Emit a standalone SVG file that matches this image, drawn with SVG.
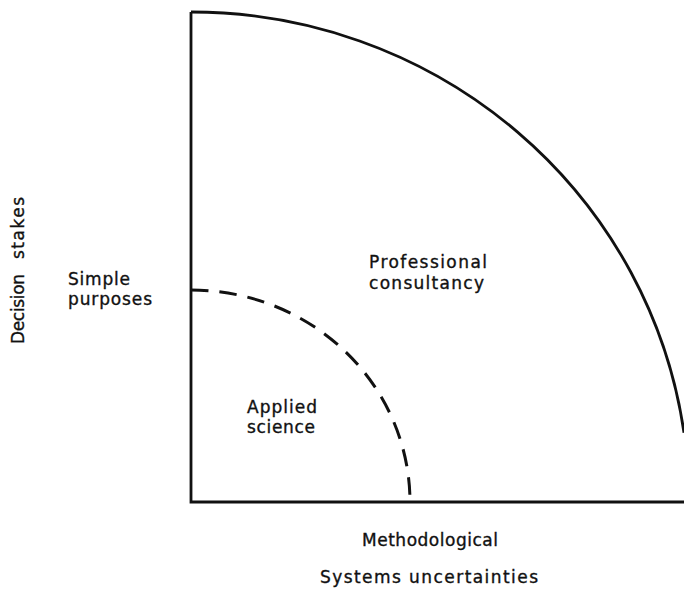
<svg xmlns="http://www.w3.org/2000/svg" width="684" height="594" viewBox="0 0 684 594">
<style>
.ln{fill:none;stroke:#111;stroke-width:2.8;stroke-linecap:butt;stroke-linejoin:miter}
.dash{fill:none;stroke:#111;stroke-width:3;stroke-dasharray:17.5 11}
text{font-family:"DejaVu Sans","Liberation Sans",sans-serif;font-size:17px;fill:#111;stroke:#111;stroke-width:0.35}
</style>
<rect width="684" height="594" fill="#fff"/>
<g id="connectors">
<path id="axes" class="ln" d="M191,12 L191,502 L684,502"/>
<path id="outer-boundary" class="ln" d="M191,12 A498,490 0 0 1 684,432.7"/>
<path id="inner-boundary" class="dash" d="M191,290 A219,212 0 0 1 410,502"/>
</g>
<g id="professional-consultancy">
<text x="369" y="268" textLength="118" lengthAdjust="spacing">Professional</text>
<text x="369" y="289" textLength="115" lengthAdjust="spacing">consultancy</text>
</g>
<g id="applied-science">
<text x="247" y="413" textLength="70" lengthAdjust="spacing">Applied</text>
<text x="247" y="433" textLength="68" lengthAdjust="spacing">science</text>
</g>
<g id="simple-purposes">
<text x="68" y="285" textLength="62" lengthAdjust="spacing">Simple</text>
<text x="68" y="305" textLength="84" lengthAdjust="spacing">purposes</text>
</g>
<g id="y-axis-label" transform="translate(24,0) rotate(-90)">
<text x="-344" y="0" textLength="70" lengthAdjust="spacing">Decision</text>
<text x="-259" y="0" textLength="62" lengthAdjust="spacing">stakes</text>
</g>
<g id="x-axis-labels">
<text x="362" y="546" textLength="136" lengthAdjust="spacing">Methodological</text>
<text x="320" y="583" textLength="218" lengthAdjust="spacing">Systems uncertainties</text>
</g>
</svg>
